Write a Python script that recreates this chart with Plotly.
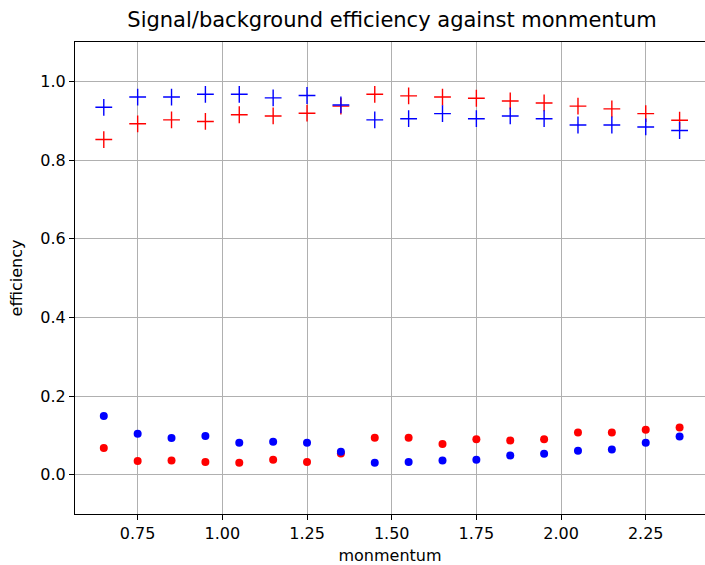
import plotly.graph_objects as go

momentum = [0.65, 0.75, 0.85, 0.95, 1.05, 1.15, 1.25, 1.35, 1.45, 1.55, 1.65, 1.75, 1.85, 1.95, 2.05, 2.15, 2.25, 2.35]

red_cross = [0.852, 0.892, 0.902, 0.898, 0.915, 0.912, 0.919, 0.937, 0.967, 0.963, 0.960, 0.957, 0.950, 0.945, 0.937, 0.930, 0.918, 0.901]
blue_cross = [0.934, 0.960, 0.960, 0.967, 0.967, 0.958, 0.964, 0.940, 0.902, 0.905, 0.918, 0.905, 0.912, 0.905, 0.889, 0.889, 0.884, 0.875]
red_dot = [0.068, 0.035, 0.036, 0.032, 0.030, 0.038, 0.032, 0.054, 0.094, 0.094, 0.078, 0.090, 0.087, 0.090, 0.107, 0.107, 0.114, 0.120]
blue_dot = [0.149, 0.104, 0.093, 0.098, 0.081, 0.084, 0.081, 0.0585, 0.030, 0.032, 0.036, 0.038, 0.049, 0.053, 0.061, 0.064, 0.081, 0.097]

xticks = [0.75, 1.00, 1.25, 1.50, 1.75, 2.00, 2.25]
yticks = [0.0, 0.2, 0.4, 0.6, 0.8, 1.0]

fig = go.Figure()
for ys, col in [(red_cross, "red"), (blue_cross, "blue")]:
    fig.add_trace(go.Scatter(x=momentum, y=ys, mode="markers",
                             marker=dict(color=col, symbol="cross-thin-open", size=12,
                                         line=dict(width=1.4, color=col))))
for ys, col in [(red_dot, "red"), (blue_dot, "blue")]:
    fig.add_trace(go.Scatter(x=momentum, y=ys, mode="markers",
                             marker=dict(color=col, symbol="circle", size=8, line=dict(width=0))))

font = "DejaVu Sans"
fig.update_layout(
    width=705, height=565,
    margin=dict(l=75, r=0, t=42, b=51),
    paper_bgcolor="white", plot_bgcolor="white",
    showlegend=False,
    font=dict(family=font, size=15, color="black"),
    title=dict(text="Signal/background efficiency against monmentum", x=0.556, xanchor="center",
               y=1 - 20 / 565, yanchor="middle", font=dict(family=font, size=21, color="black")),
)
fig.update_xaxes(range=[0.565, 2.425], tickvals=xticks, ticktext=[f"{v:.2f}" for v in xticks],
                 showgrid=True, gridcolor="#b0b0b0", gridwidth=1,
                 showline=True, linecolor="black", linewidth=1, mirror=True,
                 ticks="outside", ticklen=5, tickcolor="black", zeroline=False, automargin=False,
                 tickfont=dict(size=16),
                 title=dict(text="monmentum", font=dict(size=16), standoff=8))
fig.update_yaxes(range=[-0.1, 1.1], tickvals=yticks, ticktext=[f"{v:.1f}" for v in yticks],
                 showgrid=True, gridcolor="#b0b0b0", gridwidth=1,
                 showline=True, linecolor="black", linewidth=1, mirror=True,
                 ticks="outside", ticklen=5, tickcolor="black", zeroline=False, automargin=False,
                 tickfont=dict(size=16),
                 title=dict(text="efficiency", font=dict(size=16), standoff=13))

fig.write_html("out.html")
